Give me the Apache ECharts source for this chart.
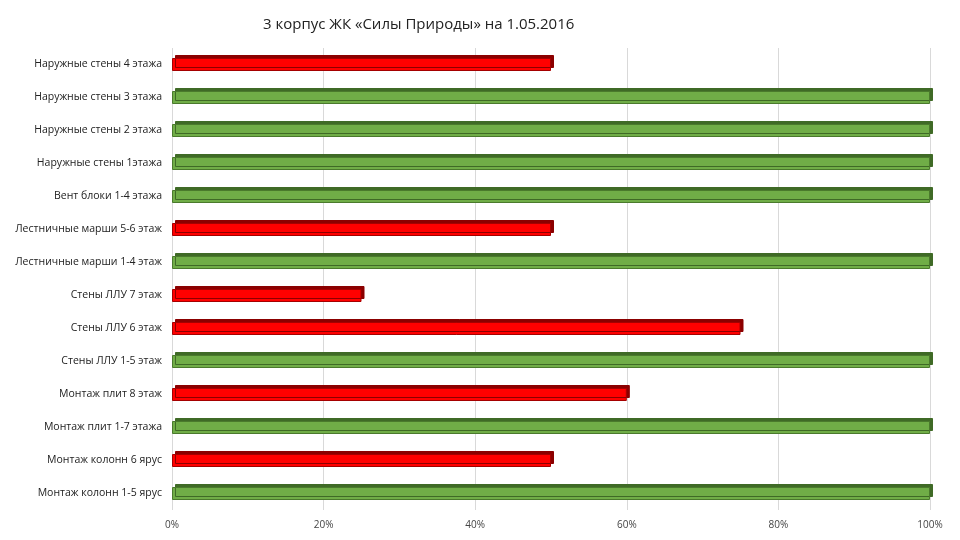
<!DOCTYPE html>
<html><head><meta charset="utf-8">
<script src="https://cdn.jsdelivr.net/npm/echarts@6/dist/echarts.min.js"></script>
<style>html,body{margin:0;padding:0;background:#fff}#c{width:960px;height:540px}</style>
</head><body><div id="c"></div>
<script>
const categories = ["Наружные стены 4 этажа","Наружные стены 3 этажа","Наружные стены 2 этажа","Наружные стены 1этажа","Вент блоки 1-4 этажа","Лестничные марши 5-6 этаж","Лестничные марши 1-4 этаж","Стены ЛЛУ 7 этаж","Стены ЛЛУ 6 этаж","Стены ЛЛУ 1-5 этаж","Монтаж плит 8 этаж","Монтаж плит 1-7 этажа","Монтаж колонн 6 ярус","Монтаж колонн 1-5 ярус"];
const values = [50,100,100,100,100,50,100,25,75,100,60,100,50,100];
const xTicks = ["0%","20%","40%","60%","80%","100%"];
const chart = echarts.init(document.getElementById('c'));
chart.setOption({
  animation:false,
  textStyle:{fontFamily:"Open Sans"},
  title:{text:"3 корпус ЖК «Силы Природы» на 1.05.2016",left:258,top:12,textStyle:{fontSize:15,fontWeight:'normal',color:'#222',fontFamily:"Open Sans"}},
  grid:{left:172,right:30,top:48,bottom:30,containLabel:false},
  xAxis:{type:'value',min:0,max:100,interval:20,
    axisLabel:{formatter:v=>xTicks[v/20],color:'#444',fontSize:10,margin:10},
    splitLine:{lineStyle:{color:'#d9d9d9'}},axisLine:{show:false},axisTick:{show:false}},
  yAxis:{type:'category',inverse:true,data:categories,
    axisLabel:{color:'#222',fontSize:10.5,margin:10},
    axisLine:{show:false},axisTick:{show:false}},
  series:[{type:'bar',barWidth:13,
    data:values.map(v=>({value:v,itemStyle:{
      color: v<100?'#ff0000':'#70ad47',
      borderColor: v<100?'#a50000':'#4a7a2c',borderWidth:1,
      shadowColor: v<100?'#8b0000':'#3f6a26',shadowOffsetX:3,shadowOffsetY:-3}}))
  }]
});
</script></body></html>
